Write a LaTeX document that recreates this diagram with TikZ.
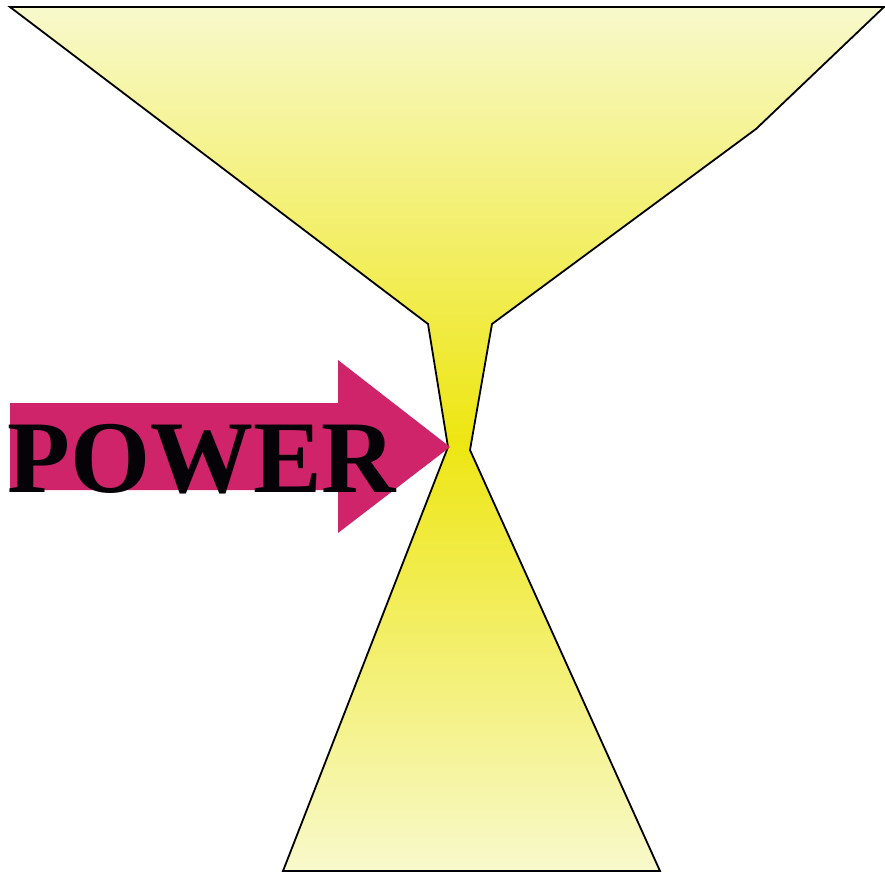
\documentclass[tikz,border=0pt]{standalone}
\usepackage{fontspec}
\setmainfont{Liberation Serif}
\definecolor{paleY}{HTML}{F8F9CC}
\definecolor{brightY}{HTML}{EEE612}
\definecolor{arrowM}{HTML}{D0246A}
\definecolor{txtK}{HTML}{050308}
\tikzset{funnel/.style={draw=black, line width=1.8pt, line join=miter, top color=paleY, bottom color=paleY, middle color=brightY}}
\begin{document}
\begin{tikzpicture}[x=1pt,y=-1pt]
\useasboundingbox (0,0) rectangle (885,872);
\path[funnel] (10,7) -- (884,7) -- (756,129) -- (492,324) -- (470,450) -- (660,871) -- (283,871) -- (448,447) -- (428,324) -- cycle;
\fill[arrowM] (10,403) -- (338,403) -- (338,360) -- (450,447) -- (338,533) -- (338,490) -- (10,490) -- cycle;
\node[anchor=base west, inner sep=0pt, text=txtK, font=\fontsize{103}{103}\selectfont\bfseries] (power) at (7,492) {POWER};
\end{tikzpicture}
\end{document}
